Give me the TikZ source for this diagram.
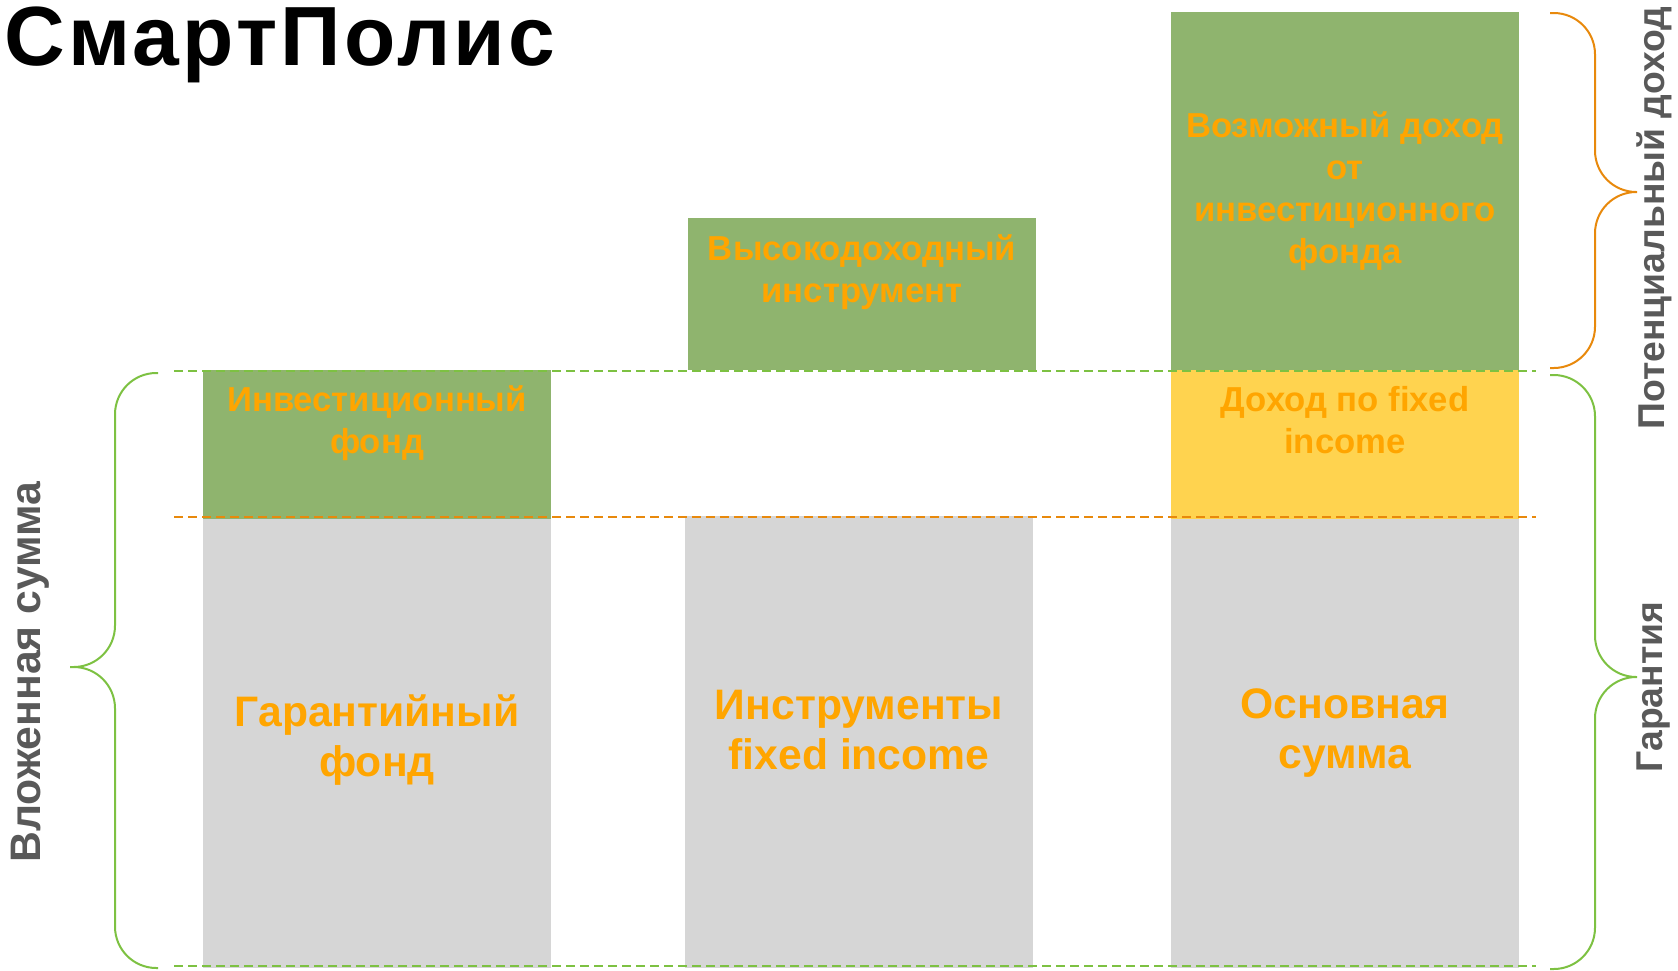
\documentclass[tikz,border=0pt]{standalone}
\usepackage{fontspec}
\setmainfont{Liberation Sans}

\definecolor{barGreen}{HTML}{8FB46E}
\definecolor{barGray}{HTML}{D6D6D6}
\definecolor{barYellow}{HTML}{FFD34F}
\definecolor{lblOrange}{HTML}{FFA500}
\definecolor{lineGreen}{HTML}{7DC142}
\definecolor{lineOrange}{HTML}{E8890C}
\definecolor{sideGray}{HTML}{595959}

\begin{document}
\begin{tikzpicture}[x=0.75pt,y=-0.75pt,
    small/.style={text=lblOrange,align=center,inner sep=0pt,
      font=\bfseries\fontsize{26}{31.5}\selectfont},
    big/.style={text=lblOrange,align=center,inner sep=0pt,
      font=\bfseries\fontsize{32}{38}\selectfont},
    side/.style={text=sideGray,rotate=90,inner sep=0pt,
      font=\bfseries\fontsize{28}{34}\selectfont},
    level/.style={line width=1.9pt,dash pattern=on 6.5pt off 4pt},
    brace/.style={line width=1.5pt,rounded corners=31pt}]
  \useasboundingbox (0,0) rectangle (1678,971);

  \node[anchor=base west,inner sep=0pt,
    font=\bfseries\fontsize{63}{70}\selectfont\addfontfeature{LetterSpace=4}]
    (title) at (4,65) {СмартПолис};

  % bars
  \fill[barGray] (203,519) rectangle (551,968);
  \fill[barGreen] (203,370) rectangle (551,519);
  \fill[barGray] (685,516) rectangle (1033,968);
  \fill[barGreen] (688,218) rectangle (1036,370);
  \fill[barGray] (1171,519) rectangle (1519,968);
  \fill[barYellow] (1171,370) rectangle (1519,519);
  \fill[barGreen] (1171,12) rectangle (1519,370);

  % levels
  \coordinate (topL) at (174,371);
  \coordinate (topR) at (1536,371);
  \coordinate (midL) at (174,517);
  \coordinate (midR) at (1536,517);
  \coordinate (botL) at (174,966);
  \coordinate (botR) at (1536,966);
  \draw[level,lineGreen] (topL) -- (topR);
  \draw[level,lineOrange] (midL) -- (midR);
  \draw[level,lineGreen] (botL) -- (botR);

  \node[small] (invest) at (377,423) {Инвестиционный\\фонд};
  \node[big] (guarant) at (377,740) {Гарантийный\\фонд};
  \node[small] (highyield) at (862,272) {Высокодоходный\\инструмент};
  \node[big] (fixedinc) at (859,730) {Инструменты\\fixed income};
  \node[small] (possible) at (1345,191)
    {Возможный доход\\от\\инвестиционного\\фонда};
  \node[small] (fiincome) at (1345,420) {Доход по fixed\\income};
  \node[big] (principal) at (1345,733) {Основная\\сумма};

  % braces
  \draw[brace,lineGreen] (158,373) -- (115,373) -- (115,667) -- (70,667)
    (70,667) -- (115,667) -- (115,968) -- (158,968);
  \draw[brace,lineOrange] (1550,13) -- (1595,13) -- (1595,192) -- (1637,192)
    (1637,192) -- (1595,192) -- (1595,368) -- (1550,368);
  \draw[brace,lineGreen] (1550,375) -- (1595,375) -- (1595,677) -- (1637,677)
    (1637,677) -- (1595,677) -- (1595,969) -- (1550,969);

  \node[side,font=\bfseries\fontsize{32}{38}\selectfont] (invested)
    at (30,672) {Вложенная сумма};
  \node[side] (potential) at (1654,218) {Потенциальный доход};
  \node[side] (guarantee) at (1654,687) {Гарантия};
\end{tikzpicture}
\end{document}
